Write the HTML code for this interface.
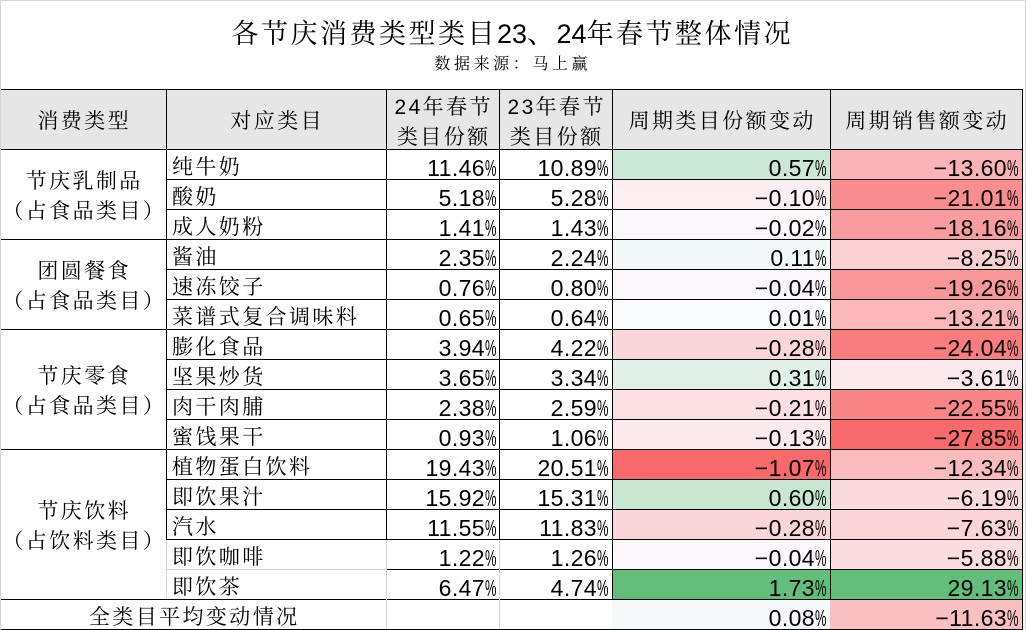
<!DOCTYPE html>
<html><head><meta charset="utf-8">
<style>
html,body{margin:0;padding:0;background:#fff;}
#c{position:relative;width:1026px;height:630px;background:#fff;overflow:hidden;color:#000;}
.a{position:absolute;}
.t{position:absolute;height:30px;line-height:30px;white-space:nowrap;}
.cj{font-family:"Liberation Sans","Noto Serif CJK SC","Noto Sans CJK SC",serif;font-size:21px;letter-spacing:2.4px;}
.n{font-family:"Liberation Sans",sans-serif;font-size:23px;text-align:right;letter-spacing:0.4px;}
.pc{display:inline-block;width:11px;transform:scaleX(.56);transform-origin:0 50%;letter-spacing:0;}
.c3{left:387px;width:109px;}
.c4{left:500px;width:108px;}
.c5{left:613px;width:213px;}
.c6{left:831px;width:187px;}
.f5{position:absolute;left:613px;width:217px;height:29px;}
.f6{position:absolute;left:831px;width:191px;height:29px;}
.h{position:absolute;height:1px;background:#000;}
.v{position:absolute;width:1px;background:#000;}
.g{background:#d4d4d4;}
.cen{text-align:center;padding-left:2.4px;box-sizing:border-box;}
</style></head><body>
<div id="c">
<!-- title -->
<div class="a" style="top:14px;left:0;width:1022px;height:40px;line-height:40px;text-align:center;font-family:'Liberation Sans','Noto Serif CJK SC','Noto Sans CJK SC',serif;font-size:27px;letter-spacing:2.5px;padding-left:2.5px;box-sizing:border-box;white-space:nowrap;">各节庆消费类型类目<span style="letter-spacing:0">23</span>、<span style="letter-spacing:0">24</span>年春节整体情况</div>
<div class="a" style="top:53px;left:0;width:1022px;height:24px;line-height:24px;text-align:center;font-family:'Liberation Sans','Noto Serif CJK SC','Noto Sans CJK SC',serif;font-size:16px;letter-spacing:3.6px;padding-left:3.6px;box-sizing:border-box;white-space:nowrap;">数据来源：马上赢</div>

<!-- header bg -->
<div class="a" style="top:90px;left:1px;width:1021px;height:59px;background:#e7e6e6;"></div>

<!-- fills -->
<div class="f5" style="top:150px;background:rgb(202,232,211)"></div><div class="f6" style="top:150px;background:rgb(250,180,183)"></div>
<div class="f5" style="top:180px;background:rgb(252,238,241)"></div><div class="f6" style="top:180px;background:rgb(249,141,143)"></div>
<div class="f5" style="top:210px;background:rgb(252,249,252)"></div><div class="f6" style="top:210px;background:rgb(249,156,159)"></div>
<div class="f5" style="top:240px;background:rgb(242,248,247)"></div><div class="f6" style="top:240px;background:rgb(251,208,211)"></div>
<div class="f5" style="top:270px;background:rgb(252,247,250)"></div><div class="f6" style="top:270px;background:rgb(249,150,153)"></div>
<div class="f5" style="top:300px;background:rgb(251,252,254)"></div><div class="f6" style="top:300px;background:rgb(250,182,185)"></div>
<div class="f5" style="top:330px;background:rgb(251,214,216)"></div><div class="f6" style="top:330px;background:rgb(249,125,127)"></div>
<div class="f5" style="top:360px;background:rgb(225,241,231)"></div><div class="f6" style="top:360px;background:rgb(251,233,236)"></div>
<div class="f5" style="top:390px;background:rgb(251,223,226)"></div><div class="f6" style="top:390px;background:rgb(249,133,135)"></div>
<div class="f5" style="top:420px;background:rgb(252,234,237)"></div><div class="f6" style="top:420px;background:rgb(248,105,107)"></div>
<div class="f5" style="top:450px;background:rgb(248,105,107)"></div><div class="f6" style="top:450px;background:rgb(250,187,189)"></div>
<div class="f5" style="top:480px;background:rgb(199,231,209)"></div><div class="f6" style="top:480px;background:rgb(251,219,222)"></div>
<div class="f5" style="top:510px;background:rgb(251,214,216)"></div><div class="f6" style="top:510px;background:rgb(251,212,215)"></div>
<div class="f5" style="top:540px;background:rgb(252,247,250)"></div><div class="f6" style="top:540px;background:rgb(251,221,224)"></div>
<div class="f5" style="top:570px;background:rgb(99,190,123)"></div><div class="f6" style="top:570px;background:rgb(99,190,123)"></div>
<div class="a" style="top:600px;left:612px;width:218px;height:29px;background:rgb(245,249,249)"></div>
<div class="a" style="top:600px;left:830px;width:192px;height:29px;background:rgb(250,191,193)"></div>

<!-- gray sheet frame -->
<div class="a g" style="top:0;left:0;width:1026px;height:1px;"></div>
<div class="a g" style="top:0;left:0;width:1px;height:630px;"></div>
<div class="a g" style="top:0;left:1025px;width:1px;height:630px;"></div>

<!-- horizontal lines -->
<div class="h" style="top:89px;left:1px;width:1022px;"></div>
<div class="h" style="top:149px;left:1px;width:1022px;"></div>
<div class="h" style="top:179px;left:166px;width:857px;"></div>
<div class="h" style="top:209px;left:166px;width:857px;"></div>
<div class="h" style="top:239px;left:1px;width:1022px;"></div>
<div class="h" style="top:269px;left:166px;width:857px;"></div>
<div class="h" style="top:299px;left:166px;width:857px;"></div>
<div class="h" style="top:329px;left:1px;width:1022px;"></div>
<div class="h" style="top:359px;left:166px;width:857px;"></div>
<div class="h" style="top:389px;left:166px;width:857px;"></div>
<div class="h" style="top:419px;left:166px;width:857px;"></div>
<div class="h" style="top:449px;left:1px;width:1022px;"></div>
<div class="h" style="top:479px;left:166px;width:857px;"></div>
<div class="h" style="top:509px;left:166px;width:857px;"></div>
<div class="h" style="top:539px;left:166px;width:857px;"></div>
<div class="h g" style="top:569px;left:167px;width:219px;"></div>
<div class="h" style="top:569px;left:386px;width:637px;"></div>
<div class="h" style="top:599px;left:1px;width:1022px;"></div>
<div class="h" style="top:629px;left:1px;width:1022px;"></div>

<!-- vertical lines -->
<div class="v" style="left:166px;top:89px;height:451px;"></div>
<div class="v g" style="left:166px;top:540px;height:59px;"></div>
<div class="v" style="left:386px;top:89px;height:451px;"></div>
<div class="v g" style="left:386px;top:540px;height:89px;"></div>
<div class="v" style="left:499px;top:89px;height:451px;"></div>
<div class="v g" style="left:499px;top:540px;height:89px;"></div>
<div class="v" style="left:612px;top:89px;height:511px;"></div>
<div class="v" style="left:830px;top:89px;height:511px;"></div>
<div class="v" style="left:1022px;top:89px;height:541px;"></div>

<!-- header text -->
<div class="t cj cen" style="top:107px;left:0;width:166px;">消费类型</div>
<div class="t cj cen" style="top:107px;left:166px;width:220px;">对应类目</div>
<div class="a cj cen" style="top:93px;left:386px;width:113px;height:60px;line-height:30px;white-space:nowrap;">24年春节<br>类目份额</div>
<div class="a cj cen" style="top:93px;left:499px;width:113px;height:60px;line-height:30px;white-space:nowrap;">23年春节<br>类目份额</div>
<div class="t cj cen" style="top:107px;left:612px;width:218px;">周期类目份额变动</div>
<div class="t cj cen" style="top:107px;left:830px;width:192px;">周期销售额变动</div>

<!-- group labels -->
<div class="a cj cen" style="top:167px;left:0;width:166px;height:60px;line-height:30px;white-space:nowrap;">节庆乳制品<br>（占食品类目）</div>
<div class="a cj cen" style="top:257px;left:0;width:166px;height:60px;line-height:30px;white-space:nowrap;">团圆餐食<br>（占食品类目）</div>
<div class="a cj cen" style="top:362px;left:0;width:166px;height:60px;line-height:30px;white-space:nowrap;">节庆零食<br>（占食品类目）</div>
<div class="a cj cen" style="top:497px;left:0;width:166px;height:60px;line-height:30px;white-space:nowrap;">节庆饮料<br>（占饮料类目）</div>

<!-- rows -->
<div class="t cj" style="top:153px;left:172px;">纯牛奶</div>
<div class="t n c3" style="top:153px;">11.46<span class="pc">%</span></div>
<div class="t n c4" style="top:153px;">10.89<span class="pc">%</span></div>
<div class="t n c5" style="top:153px;">0.57<span class="pc">%</span></div>
<div class="t n c6" style="top:153px;">−13.60<span class="pc">%</span></div>

<div class="t cj" style="top:183px;left:172px;">酸奶</div>
<div class="t n c3" style="top:183px;">5.18<span class="pc">%</span></div>
<div class="t n c4" style="top:183px;">5.28<span class="pc">%</span></div>
<div class="t n c5" style="top:183px;">−0.10<span class="pc">%</span></div>
<div class="t n c6" style="top:183px;">−21.01<span class="pc">%</span></div>

<div class="t cj" style="top:213px;left:172px;">成人奶粉</div>
<div class="t n c3" style="top:213px;">1.41<span class="pc">%</span></div>
<div class="t n c4" style="top:213px;">1.43<span class="pc">%</span></div>
<div class="t n c5" style="top:213px;">−0.02<span class="pc">%</span></div>
<div class="t n c6" style="top:213px;">−18.16<span class="pc">%</span></div>

<div class="t cj" style="top:243px;left:172px;">酱油</div>
<div class="t n c3" style="top:243px;">2.35<span class="pc">%</span></div>
<div class="t n c4" style="top:243px;">2.24<span class="pc">%</span></div>
<div class="t n c5" style="top:243px;">0.11<span class="pc">%</span></div>
<div class="t n c6" style="top:243px;">−8.25<span class="pc">%</span></div>

<div class="t cj" style="top:273px;left:172px;">速冻饺子</div>
<div class="t n c3" style="top:273px;">0.76<span class="pc">%</span></div>
<div class="t n c4" style="top:273px;">0.80<span class="pc">%</span></div>
<div class="t n c5" style="top:273px;">−0.04<span class="pc">%</span></div>
<div class="t n c6" style="top:273px;">−19.26<span class="pc">%</span></div>

<div class="t cj" style="top:303px;left:172px;">菜谱式复合调味料</div>
<div class="t n c3" style="top:303px;">0.65<span class="pc">%</span></div>
<div class="t n c4" style="top:303px;">0.64<span class="pc">%</span></div>
<div class="t n c5" style="top:303px;">0.01<span class="pc">%</span></div>
<div class="t n c6" style="top:303px;">−13.21<span class="pc">%</span></div>

<div class="t cj" style="top:333px;left:172px;">膨化食品</div>
<div class="t n c3" style="top:333px;">3.94<span class="pc">%</span></div>
<div class="t n c4" style="top:333px;">4.22<span class="pc">%</span></div>
<div class="t n c5" style="top:333px;">−0.28<span class="pc">%</span></div>
<div class="t n c6" style="top:333px;">−24.04<span class="pc">%</span></div>

<div class="t cj" style="top:363px;left:172px;">坚果炒货</div>
<div class="t n c3" style="top:363px;">3.65<span class="pc">%</span></div>
<div class="t n c4" style="top:363px;">3.34<span class="pc">%</span></div>
<div class="t n c5" style="top:363px;">0.31<span class="pc">%</span></div>
<div class="t n c6" style="top:363px;">−3.61<span class="pc">%</span></div>

<div class="t cj" style="top:393px;left:172px;">肉干肉脯</div>
<div class="t n c3" style="top:393px;">2.38<span class="pc">%</span></div>
<div class="t n c4" style="top:393px;">2.59<span class="pc">%</span></div>
<div class="t n c5" style="top:393px;">−0.21<span class="pc">%</span></div>
<div class="t n c6" style="top:393px;">−22.55<span class="pc">%</span></div>

<div class="t cj" style="top:423px;left:172px;">蜜饯果干</div>
<div class="t n c3" style="top:423px;">0.93<span class="pc">%</span></div>
<div class="t n c4" style="top:423px;">1.06<span class="pc">%</span></div>
<div class="t n c5" style="top:423px;">−0.13<span class="pc">%</span></div>
<div class="t n c6" style="top:423px;">−27.85<span class="pc">%</span></div>

<div class="t cj" style="top:453px;left:172px;">植物蛋白饮料</div>
<div class="t n c3" style="top:453px;">19.43<span class="pc">%</span></div>
<div class="t n c4" style="top:453px;">20.51<span class="pc">%</span></div>
<div class="t n c5" style="top:453px;">−1.07<span class="pc">%</span></div>
<div class="t n c6" style="top:453px;">−12.34<span class="pc">%</span></div>

<div class="t cj" style="top:483px;left:172px;">即饮果汁</div>
<div class="t n c3" style="top:483px;">15.92<span class="pc">%</span></div>
<div class="t n c4" style="top:483px;">15.31<span class="pc">%</span></div>
<div class="t n c5" style="top:483px;">0.60<span class="pc">%</span></div>
<div class="t n c6" style="top:483px;">−6.19<span class="pc">%</span></div>

<div class="t cj" style="top:513px;left:172px;">汽水</div>
<div class="t n c3" style="top:513px;">11.55<span class="pc">%</span></div>
<div class="t n c4" style="top:513px;">11.83<span class="pc">%</span></div>
<div class="t n c5" style="top:513px;">−0.28<span class="pc">%</span></div>
<div class="t n c6" style="top:513px;">−7.63<span class="pc">%</span></div>

<div class="t cj" style="top:543px;left:172px;">即饮咖啡</div>
<div class="t n c3" style="top:543px;">1.22<span class="pc">%</span></div>
<div class="t n c4" style="top:543px;">1.26<span class="pc">%</span></div>
<div class="t n c5" style="top:543px;">−0.04<span class="pc">%</span></div>
<div class="t n c6" style="top:543px;">−5.88<span class="pc">%</span></div>

<div class="t cj" style="top:573px;left:172px;">即饮茶</div>
<div class="t n c3" style="top:573px;">6.47<span class="pc">%</span></div>
<div class="t n c4" style="top:573px;">4.74<span class="pc">%</span></div>
<div class="t n c5" style="top:573px;">1.73<span class="pc">%</span></div>
<div class="t n c6" style="top:573px;">29.13<span class="pc">%</span></div>

<!-- last row -->
<div class="t cj cen" style="top:603px;left:0;width:386px;">全类目平均变动情况</div>
<div class="t n c5" style="top:603px;">0.08<span class="pc">%</span></div>
<div class="t n c6" style="top:603px;">−11.63<span class="pc">%</span></div>
</div>
</body></html>
